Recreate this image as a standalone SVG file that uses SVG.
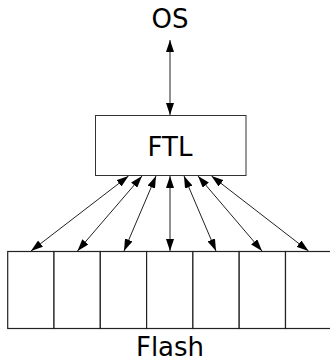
<svg xmlns="http://www.w3.org/2000/svg" width="330" height="361" viewBox="0 0 330 361">
<style>
text{font-family:"DejaVu Sans","Liberation Sans",sans-serif;font-size:26px;fill:#000;text-anchor:middle}
.box{fill:#fff;stroke:#333;stroke-width:1}
.cell{fill:#fff;stroke:#222;stroke-width:1.2}
.c{stroke:#222;stroke-width:1;fill:none;marker-start:url(#a);marker-end:url(#a)}
</style>
<defs>
<marker id="a" viewBox="0 0 12 8" refX="12" refY="4" markerWidth="12" markerHeight="8" markerUnits="userSpaceOnUse" orient="auto-start-reverse">
<path d="M0,0 L12,4 L0,8 Z" fill="#000"/>
</marker>
</defs>
<g id="os"><text x="170" y="28">OS</text></g>
<g id="ftl"><rect class="box" x="95.5" y="115.5" width="150.5" height="60"/><text x="170" y="156">FTL</text></g>
<g id="flash">
<rect class="cell" x="7.7" y="251.5" width="46.3" height="77"/>
<rect class="cell" x="54" y="251.5" width="46.3" height="77"/>
<rect class="cell" x="100.3" y="251.5" width="46.3" height="77"/>
<rect class="cell" x="146.6" y="251.5" width="46.3" height="77"/>
<rect class="cell" x="192.9" y="251.5" width="46.3" height="77"/>
<rect class="cell" x="239.2" y="251.5" width="46.3" height="77"/>
<rect class="cell" x="285.5" y="251.5" width="46.3" height="77"/>
<text x="170" y="356">Flash</text>
</g>
<g id="connectors">
<line class="c" x1="170" y1="40" x2="170" y2="115"/>
<line class="c" x1="128.5" y1="176" x2="31" y2="251"/>
<line class="c" x1="142" y1="176" x2="77.5" y2="251"/>
<line class="c" x1="156" y1="176" x2="124" y2="251"/>
<line class="c" x1="170" y1="176" x2="170" y2="251"/>
<line class="c" x1="184" y1="176" x2="216" y2="251"/>
<line class="c" x1="198" y1="176" x2="262" y2="251"/>
<line class="c" x1="211.5" y1="176" x2="308.5" y2="251"/>
</g>
</svg>
